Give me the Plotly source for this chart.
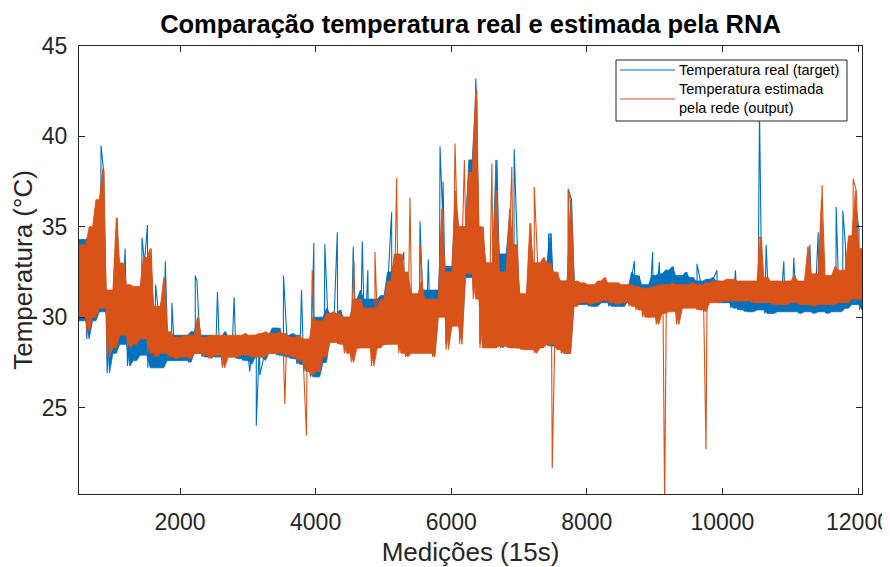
import numpy as np
import plotly.graph_objects as go

# ---- data -----------------------------------------------------------------
# envelope (min / max) of each block of 100 measurements, starting at 510
inicio = 510
largura_bloco = 100

rede_min = [30.0, 29.2, 30.0, 30.5, 27.8, 28.3, 29.0, 28.3, 28.5, 28.8,
            28.0, 27.8, 28.0, 27.8, 27.7, 27.8, 27.7, 28.0, 27.9, 27.7,
            27.9, 27.2, 27.8, 27.8, 27.9, 27.8, 27.8, 27.8, 28.0, 28.0,
            27.9, 27.8, 27.6, 27.0, 26.8, 27.0, 27.8, 28.6, 28.5, 28.0,
            27.5, 28.3, 28.3, 27.3, 28.3, 28.5, 28.5, 28.0, 27.8, 28.0,
            28.0, 28.0, 27.8, 30.0, 28.2, 29.5, 28.5, 32.4, 31.0, 28.3,
            28.3, 28.3, 28.4, 28.3, 28.3, 28.2, 28.2, 28.0, 28.3, 28.5,
            28.2, 28.0, 28.0, 30.6, 30.8, 30.7, 30.8, 30.9, 30.8, 30.7,
            30.8, 30.6, 30.4, 30.0, 30.0, 29.6, 30.2, 30.3, 29.6, 30.5,
            30.5, 30.4, 30.3, 30.8, 30.8, 30.9, 30.9, 30.9, 30.9, 30.8,
            30.8, 30.8, 30.7, 30.7, 30.7, 30.8, 30.7, 30.7, 30.6, 30.7,
            30.7, 30.7, 30.8, 30.8, 31.0, 31.0]
rede_max = [34.0, 35.0, 36.5, 38.2, 31.5, 35.5, 33.0, 31.8, 31.7, 33.3,
            33.8, 30.6, 32.2, 29.2, 28.9, 29.0, 29.0, 30.0, 28.9, 29.0,
            29.0, 29.0, 29.0, 29.0, 29.1, 29.0, 29.1, 29.2, 29.1, 29.2,
            29.1, 28.9, 29.0, 28.8, 30.0, 29.8, 30.2, 30.3, 30.2, 30.0,
            31.0, 31.0, 30.5, 30.5, 31.0, 32.0, 33.5, 33.5, 32.5, 31.3,
            32.0, 31.0, 31.0, 36.0, 32.5, 37.0, 35.0, 38.0, 42.5, 35.0,
            33.0, 37.0, 32.5, 36.0, 34.0, 31.3, 35.2, 33.0, 33.3, 33.0,
            32.5, 32.0, 36.0, 32.0, 31.9, 31.8, 32.0, 32.2, 31.9, 31.9,
            31.8, 31.8, 31.7, 31.6, 31.7, 31.8, 31.8, 31.9, 31.8, 31.8,
            31.9, 31.8, 31.9, 32.0, 32.0, 32.1, 32.1, 32.0, 32.0, 32.0,
            34.4, 32.2, 32.0, 32.0, 32.0, 32.3, 32.0, 33.9, 32.4, 36.5,
            32.3, 32.8, 32.6, 34.5, 37.0, 33.8]
real_min = [29.8, 28.8, 29.8, 30.3, 26.9, 28.0, 28.5, 27.3, 27.6, 27.9,
            27.2, 27.2, 27.2, 27.6, 27.6, 27.6, 27.5, 28.0, 27.8, 27.8,
            27.8, 27.8, 27.8, 27.7, 27.6, 27.4, 27.8, 27.6, 28.0, 27.9,
            27.8, 27.7, 27.4, 27.0, 26.7, 26.7, 27.5, 28.8, 28.6, 28.2,
            28.3, 28.3, 28.5, 28.0, 28.5, 28.5, 28.7, 28.3, 28.0, 28.2,
            28.3, 28.2, 28.0, 30.2, 28.5, 29.8, 28.8, 32.2, 31.5, 28.5,
            28.5, 28.5, 28.3, 28.5, 28.3, 28.3, 28.3, 28.2, 28.5, 28.4,
            28.3, 28.0, 28.0, 30.7, 30.7, 30.6, 30.6, 30.8, 30.6, 30.6,
            30.6, 31.0, 30.6, 30.5, 30.7, 30.8, 31.0, 31.2, 30.8, 30.9,
            30.8, 30.7, 30.7, 30.9, 30.8, 30.8, 30.5, 30.4, 30.3, 30.3,
            30.4, 30.2, 30.2, 30.3, 30.3, 30.3, 30.2, 30.3, 30.2, 30.3,
            30.2, 30.3, 30.3, 30.5, 30.7, 30.4]
real_max = [34.3, 34.5, 36.0, 38.0, 31.0, 34.8, 32.5, 31.5, 31.3, 33.0,
            33.0, 30.5, 31.5, 29.0, 29.0, 29.0, 29.2, 30.0, 29.0, 29.0,
            28.9, 29.2, 28.9, 29.0, 28.9, 29.0, 29.0, 29.0, 29.4, 29.4,
            29.0, 29.1, 29.0, 28.6, 30.0, 30.0, 30.5, 30.2, 30.4, 30.0,
            31.0, 31.5, 31.0, 31.0, 31.2, 32.5, 33.0, 33.0, 32.0, 31.0,
            31.5, 31.5, 31.5, 35.5, 32.8, 36.5, 35.0, 38.7, 42.0, 34.5,
            33.0, 38.7, 33.5, 35.5, 34.0, 31.0, 34.5, 33.0, 33.0, 34.6,
            32.0, 32.0, 36.5, 31.8, 31.7, 31.6, 31.7, 31.8, 31.6, 31.7,
            31.6, 32.5, 32.3, 31.8, 32.3, 32.4, 32.6, 32.8, 32.3, 32.5,
            32.2, 32.0, 32.1, 32.2, 32.0, 31.9, 31.6, 31.5, 31.4, 31.5,
            33.0, 31.5, 31.5, 31.4, 31.4, 31.5, 31.3, 33.0, 31.5, 33.0,
            31.6, 32.0, 32.0, 33.5, 36.0, 33.5]

# isolated narrow spikes (measurement, temperature)
real_picos_x = [835, 1190, 1440, 1520, 1640, 1783, 1880, 2225, 2250, 2552,
                2798, 3029, 3125, 3176, 3526, 3792, 3974, 4136, 4320, 4555,
                4688, 4770, 5121, 5300, 5540, 5662, 5835, 5880, 6362, 6928,
                7435, 7725, 8700, 8971, 9069, 9625, 9920, 10192, 10547, 10645,
                10906, 11053, 11290, 11413, 11678, 11777, 11816, 12013]
real_picos_y = [39.5, 33.8, 34.4, 35.1, 31.8, 33.1, 30.8, 32.3, 32.0, 31.4,
                31.1, 27.0, 24.0, 26.8, 32.3, 31.5, 34.1, 34.05, 34.7, 33.9,
                34.2, 32.6, 35.8, 33.6, 35.3, 33.2, 39.45, 37.5, 43.2, 39.3,
                34.6, 37.1, 33.1, 33.6, 33.05, 32.95, 32.6, 32.6, 41.5, 34.0,
                33.1, 33.3, 34.0, 34.7, 36.1, 35.9, 33.9, 34.9]
rede_picos_x = [3546, 3865, 3950, 4565, 4875, 5195, 5392, 5545, 6056, 6194,
                6377, 6600, 6894, 7225, 7490, 7730, 9148, 9758, 10540, 11472,
                11929]
rede_picos_y = [25.2, 23.45, 32.6, 33.1, 33.6, 37.7, 36.6, 34.0, 39.6, 38.7,
                42.6, 38.5, 38.3, 37.2, 21.65, 37.0, 19.5, 22.7, 34.4, 37.3,
                37.65]

x_ticks = [2000, 4000, 6000, 8000, 10000, 12000]
y_ticks = [25, 30, 35, 40, 45]


def serie(mins, maxs, px, py):
    """zig-zag through every block's min and max, plus the isolated spikes"""
    xs, ys = [], []
    for i, (lo, hi) in enumerate(zip(mins, maxs)):
        xs += [inicio + largura_bloco * i + 15, inicio + largura_bloco * i + 65]
        ys += [lo, hi]
    xs += list(px)
    ys += list(py)
    order = np.argsort(xs, kind="stable")
    return np.array(xs)[order], np.array(ys)[order]


def faixa(mins, maxs):
    """filled band: each block peaks at its max / min, valleys at the block edges"""
    n = len(mins)
    top_x, top_y, bot_x, bot_y = [], [], [], []
    for i in range(n):
        x0 = inicio + largura_bloco * i
        xc = x0 + largura_bloco // 2
        prev_hi = maxs[i - 1] if i > 0 else maxs[i]
        prev_lo = mins[i - 1] if i > 0 else mins[i]
        top_x += [x0, xc]
        top_y += [min(prev_hi, maxs[i]), maxs[i]]
        bot_x += [x0, xc]
        bot_y += [max(prev_lo, mins[i]), mins[i]]
    x_end = inicio + largura_bloco * n
    top_x.append(x_end)
    top_y.append(maxs[-1])
    bot_x.append(x_end)
    bot_y.append(mins[-1])
    return top_x + bot_x[::-1], top_y + bot_y[::-1]


xr, yr = serie(real_min, real_max, real_picos_x, real_picos_y)
xo, yo = serie(rede_min, rede_max, rede_picos_x, rede_picos_y)
fxr, fyr = faixa(real_min, real_max)
fxo, fyo = faixa(rede_min, rede_max)

AZUL = "#0072BD"
LARANJA = "#D95319"
EIXO = "#262626"
FONTE = "Liberation Sans, Arial, Helvetica, sans-serif"

fig = go.Figure()
fig.add_trace(go.Scatter(x=fxr, y=fyr, mode="lines", fill="toself", fillcolor=AZUL,
                         line=dict(color=AZUL, width=0.8), hoverinfo="skip", showlegend=False))
fig.add_trace(go.Scatter(x=xr, y=yr, mode="lines", line=dict(color=AZUL, width=1.1),
                         name="Temperatura real (target)", showlegend=False))
fig.add_trace(go.Scatter(x=fxo, y=fyo, mode="lines", fill="toself", fillcolor=LARANJA,
                         line=dict(color=LARANJA, width=0.8), hoverinfo="skip", showlegend=False))
fig.add_trace(go.Scatter(x=xo, y=yo, mode="lines", line=dict(color=LARANJA, width=1.1),
                         name="Temperatura estimada pela rede (output)", showlegend=False))

# the page body adds an 8 px offset; work in screen pixels and convert
OFF = 8
W, H = 890 - OFF, 567 - OFF
ax_l, ax_r, ax_t, ax_b = 79, 862, 46, 494          # plot box on screen
L, R, T, B = ax_l - OFF, W - (ax_r - OFF), ax_t - OFF, H - (ax_b - OFF)
pw, ph = W - L - R, H - T - B


def px2x(px):
    return (px - OFF - L) / pw


def py2y(py):
    return (H - B - (py - OFF)) / ph


# MATLAB-like legend box
fig.add_shape(type="rect", xref="paper", yref="paper",
              x0=px2x(616), x1=px2x(847), y0=py2y(121), y1=py2y(60),
              line=dict(color=EIXO, width=1), fillcolor="white", layer="above")
fig.add_shape(type="line", xref="paper", yref="paper",
              x0=px2x(620), x1=px2x(675), y0=py2y(70), y1=py2y(70),
              line=dict(color=AZUL, width=1.2), layer="above")
fig.add_shape(type="line", xref="paper", yref="paper",
              x0=px2x(620), x1=px2x(675), y0=py2y(99), y1=py2y(99),
              line=dict(color=LARANJA, width=1.2), layer="above")
fig.add_annotation(xref="paper", yref="paper", x=px2x(677), y=py2y(70),
                   text="Temperatura real (target)", showarrow=False,
                   xanchor="left", yanchor="middle",
                   font=dict(family=FONTE, size=14.5, color="#000"))
fig.add_annotation(xref="paper", yref="paper", x=px2x(677), y=py2y(99),
                   text="Temperatura estimada<br>pela rede (output)", showarrow=False,
                   xanchor="left", yanchor="middle", align="left",
                   font=dict(family=FONTE, size=14.5, color="#000"))

axis_common = dict(showline=True, mirror="ticks", linecolor=EIXO, linewidth=1,
                   ticks="inside", ticklen=6, tickcolor=EIXO, tickwidth=1,
                   showgrid=False, zeroline=False, automargin=False,
                   tickfont=dict(family=FONTE, size=23, color=EIXO))

fig.update_layout(
    width=W, height=H,
    margin=dict(l=L, r=R, t=T, b=B),
    paper_bgcolor="white", plot_bgcolor="white",
    title=dict(text="<b>Comparação temperatura real e estimada pela RNA</b>",
               x=(L + pw / 2) / W, xanchor="center", y=1 - (24 - OFF) / H, yanchor="middle",
               yref="container", xref="container",
               font=dict(family=FONTE, size=25.5, color="#000")),
    xaxis=dict(range=[510, 12059], tickvals=x_ticks,
               ticktext=[str(v) for v in x_ticks], ticklabelstandoff=7,
               title=dict(text="Medições (15s)", standoff=11,
                          font=dict(family=FONTE, size=26, color=EIXO)),
               **axis_common),
    yaxis=dict(range=[20.22, 45], tickvals=y_ticks,
               ticktext=[str(v) for v in y_ticks], ticklabelstandoff=6,
               title=dict(text="Temperatura (°C)", standoff=3,
                          font=dict(family=FONTE, size=26, color=EIXO)),
               **axis_common),
    showlegend=False,
)

fig.write_html("out.html")
